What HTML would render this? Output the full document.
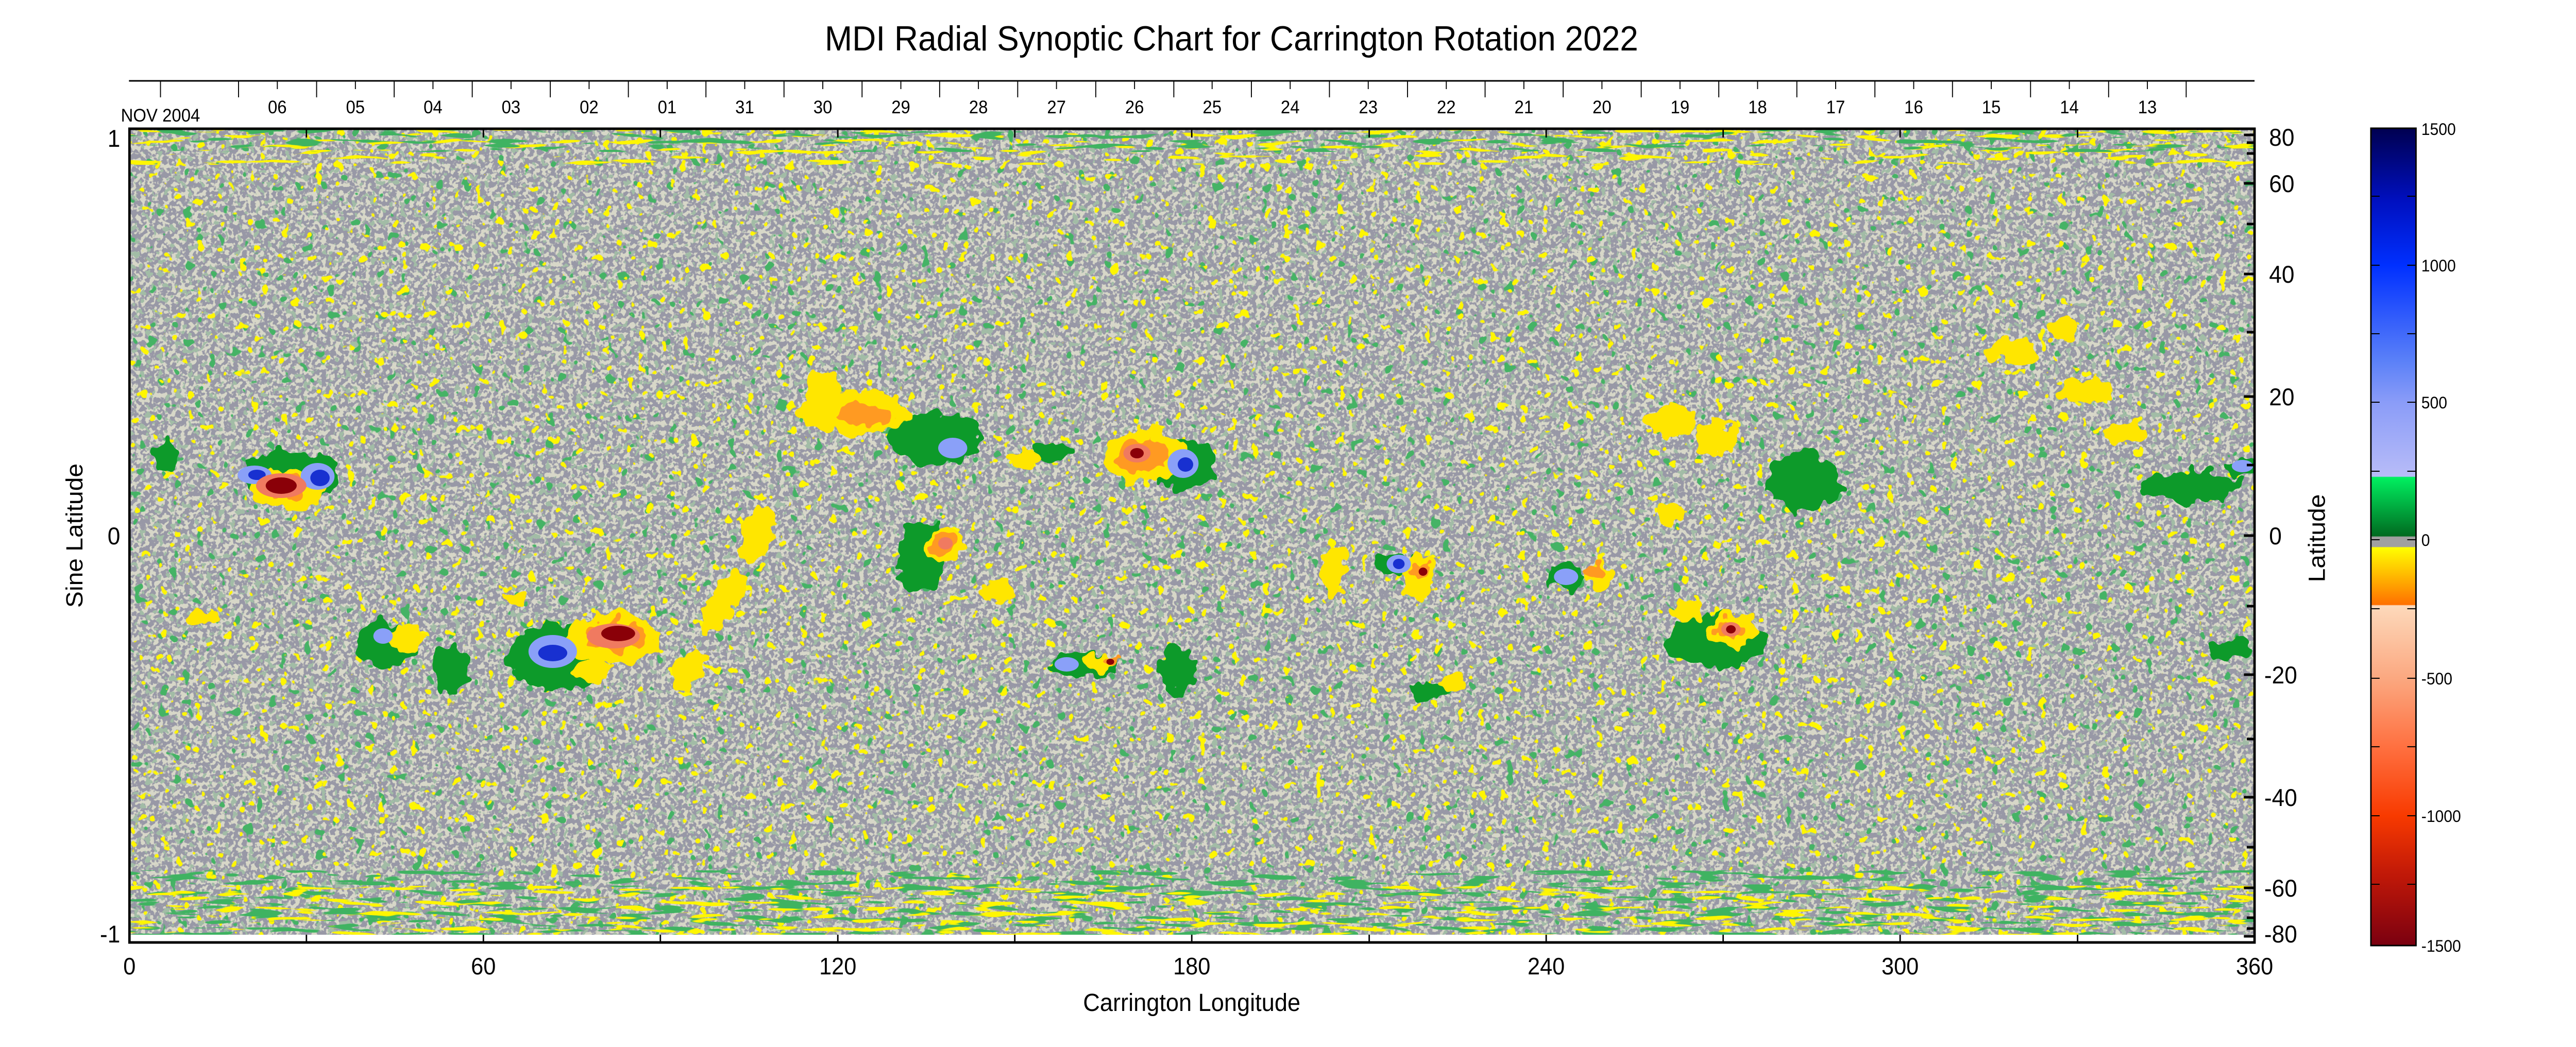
<!DOCTYPE html>
<html><head><meta charset="utf-8"><style>
html,body{margin:0;padding:0;background:#fff;overflow:hidden;width:100%;height:100%;}
svg{display:block;width:100vw;height:100vh;}
text{font-family:"Liberation Sans",Arial,sans-serif;fill:#000;}
</style></head><body>
<svg viewBox="0 0 5313 2033" preserveAspectRatio="none" xmlns="http://www.w3.org/2000/svg">
<defs>
<clipPath id="pc"><rect x="267" y="250" width="4383" height="1580"/></clipPath>
<filter id="khaki" filterUnits="userSpaceOnUse" x="267" y="250" width="4383" height="1580">
 <feTurbulence type="fractalNoise" baseFrequency="0.11" numOctaves="2" seed="2"/>
 <feColorMatrix type="matrix" values="0 0 0 0 0.68  0 0 0 0 0.68  0 0 0 0 0.58  12 0 0 0 -5.8"/>
</filter>
<filter id="dk" filterUnits="userSpaceOnUse" x="267" y="250" width="4383" height="1580">
 <feTurbulence type="fractalNoise" baseFrequency="0.08" numOctaves="2" seed="7"/>
 <feColorMatrix type="matrix" values="0 0 0 0 0.36  0 0 0 0 0.5  0 0 0 0 0.38  25 0 0 0 -15.2"/>
</filter>
<filter id="yl" filterUnits="userSpaceOnUse" x="267" y="250" width="4383" height="1580">
 <feTurbulence type="fractalNoise" baseFrequency="0.045" numOctaves="2" seed="11"/>
 <feColorMatrix type="matrix" values="0 0 0 0 1  0 0 0 0 0.92  0 0 0 0 0  30 0 0 0 -20.8"/>
</filter>
<filter id="gr" filterUnits="userSpaceOnUse" x="267" y="250" width="4383" height="1580">
 <feTurbulence type="fractalNoise" baseFrequency="0.04" numOctaves="2" seed="23"/>
 <feColorMatrix type="matrix" values="0 0 0 0 0.06  0 0 0 0 0.45  0 0 0 0 0.13  30 0 0 0 -21"/>
</filter>
<filter id="ylt" filterUnits="userSpaceOnUse" x="267" y="250" width="4383" height="70">
 <feTurbulence type="fractalNoise" baseFrequency="0.012 0.1" numOctaves="2" seed="5"/>
 <feColorMatrix type="matrix" values="0 0 0 0 1  0 0 0 0 0.92  0 0 0 0 0  20 0 0 0 -12.5"/>
</filter>
<filter id="grt" filterUnits="userSpaceOnUse" x="267" y="250" width="4383" height="45">
 <feTurbulence type="fractalNoise" baseFrequency="0.012 0.1" numOctaves="2" seed="31"/>
 <feColorMatrix type="matrix" values="0 0 0 0 0.05  0 0 0 0 0.45  0 0 0 0 0.12  20 0 0 0 -12"/>
</filter>
<filter id="ylb" filterUnits="userSpaceOnUse" x="267" y="1720" width="4383" height="95">
 <feTurbulence type="fractalNoise" baseFrequency="0.012 0.1" numOctaves="2" seed="5"/>
 <feColorMatrix type="matrix" values="0 0 0 0 1  0 0 0 0 0.92  0 0 0 0 0  20 0 0 0 -12.3"/>
</filter>
<filter id="grb" filterUnits="userSpaceOnUse" x="267" y="1690" width="4383" height="125">
 <feTurbulence type="fractalNoise" baseFrequency="0.012 0.1" numOctaves="2" seed="31"/>
 <feColorMatrix type="matrix" values="0 0 0 0 0.05  0 0 0 0 0.45  0 0 0 0 0.12  20 0 0 0 -11.5"/>
</filter>
<filter id="rag" filterUnits="userSpaceOnUse" x="267" y="250" width="4383" height="1580">
 <feTurbulence type="fractalNoise" baseFrequency="0.035" numOctaves="2" seed="4" result="t"/>
 <feDisplacementMap in="SourceGraphic" in2="t" scale="45" xChannelSelector="R" yChannelSelector="G"/>
</filter>
<linearGradient id="cb" x1="0" y1="0" x2="0" y2="1">
 <stop offset="0" stop-color="#000050"/>
 <stop offset="0.089" stop-color="#0010c0"/>
 <stop offset="0.168" stop-color="#0030ff"/>
 <stop offset="0.284" stop-color="#5a80f8"/>
 <stop offset="0.335" stop-color="#8a9cf8"/>
 <stop offset="0.426" stop-color="#b8bcf8"/>
 <stop offset="0.427" stop-color="#00f060"/>
 <stop offset="0.499" stop-color="#006a20"/>
 <stop offset="0.500" stop-color="#a0a0a0"/>
 <stop offset="0.512" stop-color="#a0a0a0"/>
 <stop offset="0.513" stop-color="#ffff00"/>
 <stop offset="0.583" stop-color="#ff7000"/>
 <stop offset="0.584" stop-color="#fdd9bb"/>
 <stop offset="0.673" stop-color="#fba880"/>
 <stop offset="0.757" stop-color="#ff7040"/>
 <stop offset="0.841" stop-color="#f83a00"/>
 <stop offset="0.914" stop-color="#c01808"/>
 <stop offset="1" stop-color="#7a0010"/>
</linearGradient>
</defs>

<text x="2540" y="98" font-size="68" text-anchor="middle">MDI Radial Synoptic Chart for Carrington Rotation 2022</text>

<line x1="266" y1="157" x2="4650" y2="157" stroke="#000" stroke-width="3"/>
<g stroke="#000" stroke-width="2">
<path d="M331 157V189M492 157V189M653 157V189M813 157V189M974 157V189M1135 157V189M1296 157V189M1456 157V189M1617 157V189M1778 157V189M1938 157V189M2099 157V189M2260 157V189M2421 157V189M2581 157V189M2742 157V189M2903 157V189M3063 157V189M3224 157V189M3385 157V189M3545 157V189M3706 157V189M3867 157V189M4027 157V189M4188 157V189M4349 157V189M4509 157V189"/>
<path d="M572 157V173M733 157V173M893 157V173M1054 157V173M1215 157V173M1376 157V173M1536 157V173M1697 157V173M1858 157V173M2018 157V173M2179 157V173M2340 157V173M2500 157V173M2661 157V173M2822 157V173M2983 157V173M3143 157V173M3304 157V173M3465 157V173M3625 157V173M3786 157V173M3947 157V173M4107 157V173M4268 157V173M4429 157V173"/>
</g>
<g font-size="35" text-anchor="middle">
<text x="331" y="236">NOV 2004</text>
<text x="572" y="220">06</text><text x="733" y="220">05</text><text x="893" y="220">04</text><text x="1054" y="220">03</text><text x="1215" y="220">02</text><text x="1376" y="220">01</text><text x="1536" y="220">31</text><text x="1697" y="220">30</text><text x="1858" y="220">29</text><text x="2018" y="220">28</text><text x="2179" y="220">27</text><text x="2340" y="220">26</text><text x="2500" y="220">25</text><text x="2661" y="220">24</text><text x="2822" y="220">23</text><text x="2983" y="220">22</text><text x="3143" y="220">21</text><text x="3304" y="220">20</text><text x="3465" y="220">19</text><text x="3625" y="220">18</text><text x="3786" y="220">17</text><text x="3947" y="220">16</text><text x="4107" y="220">15</text><text x="4268" y="220">14</text><text x="4429" y="220">13</text>
</g>

<g clip-path="url(#pc)">
<rect x="267" y="250" width="4383" height="1580" fill="#9898a6"/>
<rect x="267" y="250" width="4383" height="1580" filter="url(#khaki)"/>
<rect x="267" y="250" width="4383" height="1580" filter="url(#dk)"/>
<rect x="267" y="250" width="4383" height="1580" filter="url(#gr)"/>
<rect x="267" y="250" width="4383" height="1580" filter="url(#yl)"/>
<rect x="267" y="250" width="4383" height="70" filter="url(#ylt)"/>
<rect x="267" y="250" width="4383" height="45" filter="url(#grt)"/>
<rect x="267" y="1690" width="4383" height="125" filter="url(#grb)"/>
<rect x="267" y="1720" width="4383" height="95" filter="url(#ylb)"/>
<g filter="url(#rag)">
 <g fill="#109a2a">
  <ellipse cx="600" cy="925" rx="105" ry="50"/>
  <ellipse cx="340" cy="885" rx="25" ry="30"/>
  <ellipse cx="800" cy="1250" rx="70" ry="45"/>
  <ellipse cx="930" cy="1300" rx="40" ry="45"/>
  <ellipse cx="1150" cy="1275" rx="105" ry="65"/>
  <ellipse cx="1930" cy="850" rx="95" ry="50"/>
  <ellipse cx="1900" cy="1080" rx="50" ry="70"/>
  <ellipse cx="2165" cy="880" rx="35" ry="20"/>
  <ellipse cx="2240" cy="1290" rx="70" ry="25"/>
  <ellipse cx="2440" cy="900" rx="65" ry="50"/>
  <ellipse cx="2430" cy="1300" rx="35" ry="50"/>
  <ellipse cx="2880" cy="1095" rx="40" ry="25"/>
  <ellipse cx="2950" cy="1340" rx="45" ry="15"/>
  <ellipse cx="3230" cy="1120" rx="40" ry="22"/>
  <ellipse cx="3720" cy="935" rx="80" ry="55"/>
  <ellipse cx="3540" cy="1245" rx="105" ry="50"/>
  <ellipse cx="4520" cy="945" rx="100" ry="30"/>
  <ellipse cx="4630" cy="910" rx="35" ry="20"/>
  <ellipse cx="4600" cy="1260" rx="40" ry="25"/>
 </g>
 <g fill="#ffe600">
  <ellipse cx="595" cy="950" rx="75" ry="40"/>
  <ellipse cx="840" cy="1240" rx="40" ry="30"/>
  <ellipse cx="1265" cy="1240" rx="95" ry="50"/>
  <ellipse cx="1220" cy="1300" rx="40" ry="20"/>
  <ellipse cx="1560" cy="1040" rx="30" ry="60" transform="rotate(30 1560 1040)"/>
  <ellipse cx="1490" cy="1170" rx="30" ry="70" transform="rotate(30 1490 1170)"/>
  <ellipse cx="1420" cy="1300" rx="30" ry="45" transform="rotate(30 1420 1300)"/>
  <ellipse cx="1760" cy="800" rx="120" ry="40"/>
  <ellipse cx="1700" cy="760" rx="35" ry="35"/>
  <ellipse cx="1950" cy="1060" rx="40" ry="35"/>
  <ellipse cx="2110" cy="890" rx="40" ry="20"/>
  <ellipse cx="2270" cy="1285" rx="35" ry="16"/>
  <ellipse cx="2360" cy="885" rx="85" ry="55"/>
  <ellipse cx="2060" cy="1150" rx="35" ry="22"/>
  <ellipse cx="2750" cy="1110" rx="25" ry="50"/>
  <ellipse cx="2930" cy="1120" rx="35" ry="45"/>
  <ellipse cx="3000" cy="1325" rx="22" ry="18"/>
  <ellipse cx="3300" cy="1120" rx="30" ry="26"/>
  <ellipse cx="3450" cy="820" rx="50" ry="30"/>
  <ellipse cx="3540" cy="850" rx="40" ry="35"/>
  <ellipse cx="3440" cy="1000" rx="25" ry="22"/>
  <ellipse cx="3480" cy="1185" rx="30" ry="22"/>
  <ellipse cx="3575" cy="1225" rx="55" ry="32"/>
  <ellipse cx="4150" cy="680" rx="50" ry="25"/>
  <ellipse cx="4300" cy="760" rx="55" ry="28"/>
  <ellipse cx="4380" cy="840" rx="40" ry="20"/>
  <ellipse cx="4250" cy="640" rx="35" ry="22"/>
  <ellipse cx="420" cy="1200" rx="35" ry="18"/>
  <ellipse cx="1060" cy="1160" rx="22" ry="18"/>
 </g>
 <g fill="#ff9a20">
  <ellipse cx="590" cy="945" rx="50" ry="25"/>
  <ellipse cx="1270" cy="1235" rx="65" ry="30"/>
  <ellipse cx="1780" cy="805" rx="60" ry="22"/>
  <ellipse cx="1945" cy="1055" rx="25" ry="20"/>
  <ellipse cx="2355" cy="885" rx="50" ry="32"/>
  <ellipse cx="2930" cy="1110" rx="20" ry="18"/>
  <ellipse cx="3290" cy="1112" rx="18" ry="16"/>
  <ellipse cx="3570" cy="1222" rx="30" ry="18"/>
  <ellipse cx="2290" cy="1285" rx="18" ry="11"/>
 </g>
</g>
<g fill="#8aa0f8">
 <ellipse cx="525" cy="922" rx="35" ry="18"/>
 <ellipse cx="655" cy="925" rx="35" ry="26"/>
 <ellipse cx="1140" cy="1265" rx="50" ry="32"/>
 <ellipse cx="790" cy="1235" rx="20" ry="15"/>
 <ellipse cx="1965" cy="870" rx="30" ry="20"/>
 <ellipse cx="2200" cy="1290" rx="25" ry="14"/>
 <ellipse cx="2440" cy="900" rx="32" ry="28"/>
 <ellipse cx="2885" cy="1095" rx="25" ry="18"/>
 <ellipse cx="3230" cy="1120" rx="25" ry="16"/>
 <ellipse cx="4625" cy="905" rx="22" ry="12"/>
</g>
<g fill="#1830d0">
 <ellipse cx="530" cy="922" rx="18" ry="10"/>
 <ellipse cx="660" cy="928" rx="20" ry="16"/>
 <ellipse cx="1140" cy="1268" rx="30" ry="16"/>
 <ellipse cx="2445" cy="902" rx="16" ry="14"/>
 <ellipse cx="2885" cy="1095" rx="12" ry="10"/>
</g>
<g fill="#f07a60">
 <ellipse cx="580" cy="943" rx="52" ry="24"/>
 <ellipse cx="1265" cy="1235" rx="55" ry="24"/>
 <ellipse cx="2345" cy="880" rx="28" ry="18"/>
 <ellipse cx="3570" cy="1222" rx="20" ry="14"/>
 <ellipse cx="1950" cy="1055" rx="15" ry="12"/>
</g>
<g fill="#8a0008">
 <ellipse cx="580" cy="943" rx="32" ry="16"/>
 <ellipse cx="1275" cy="1230" rx="35" ry="15"/>
 <ellipse cx="2345" cy="880" rx="14" ry="10"/>
 <ellipse cx="2935" cy="1110" rx="9" ry="8"/>
 <ellipse cx="3570" cy="1222" rx="10" ry="8"/>
 <ellipse cx="2290" cy="1285" rx="8" ry="6"/>
</g>
<rect x="267" y="1815" width="4383" height="15" fill="#fff"/>
</g>

<rect x="267" y="250" width="4383" height="1580" fill="none" stroke="#000" stroke-width="5"/>
<g stroke="#000" stroke-width="3">
<path d="M632 250v17M997 250v17M1362 250v17M1728 250v17M2093 250v17M2458 250v17M2824 250v17M3189 250v17M3554 250v17M3919 250v17M4285 250v17"/>
<path d="M632 1830v-15M997 1830v-15M1362 1830v-15M1728 1830v-15M2093 1830v-15M2458 1830v-15M2824 1830v-15M3189 1830v-15M3554 1830v-15M3919 1830v-15M4285 1830v-15"/>
</g>
<g stroke="#000" stroke-width="5">
<path d="M4650 1040h-22M4650 903h-16M4650 770h-22M4650 645h-16M4650 532h-22M4650 435h-16M4650 356h-22M4650 298h-16M4650 262h-22M4650 1177h-16M4650 1310h-22M4650 1435h-16M4650 1548h-22M4650 1645h-16M4650 1724h-22M4650 1782h-16M4650 1818h-22M4650 277h-16M4650 1803h-16"/>
</g>
<g font-size="47" text-anchor="start">
<text x="4680" y="283">80</text>
<text x="4680" y="373">60</text>
<text x="4680" y="549">40</text>
<text x="4680" y="787">20</text>
<text x="4680" y="1057">0</text>
<text x="4670" y="1327">-20</text>
<text x="4670" y="1565">-40</text>
<text x="4670" y="1741">-60</text>
<text x="4670" y="1830">-80</text>
</g>
<g font-size="47" text-anchor="end">
<text x="248" y="285">1</text>
<text x="248" y="1057">0</text>
<text x="248" y="1830">-1</text>
</g>
<g font-size="46" text-anchor="middle">
<text x="267" y="1892">0</text>
<text x="997" y="1892">60</text>
<text x="1728" y="1892">120</text>
<text x="2458" y="1892">180</text>
<text x="3189" y="1892">240</text>
<text x="3919" y="1892">300</text>
<text x="4650" y="1892">360</text>
</g>
<text x="2458" y="1963" font-size="48" text-anchor="middle">Carrington Longitude</text>
<text transform="translate(170 1040) rotate(-90)" font-size="48" text-anchor="middle">Sine Latitude</text>
<text transform="translate(4795 1045) rotate(-90)" font-size="48" text-anchor="middle">Latitude</text>

<rect x="4890" y="249" width="93" height="1587" fill="url(#cb)" stroke="#000" stroke-width="3"/>
<g stroke="#000" stroke-width="2">
<path d="M4890 381h18M4983 381h-18M4890 515h18M4983 515h-18M4890 648h18M4983 648h-18M4890 781h18M4983 781h-18M4890 915h18M4983 915h-18M4890 1048h18M4983 1048h-18M4890 1182h18M4983 1182h-18M4890 1317h18M4983 1317h-18M4890 1450h18M4983 1450h-18M4890 1584h18M4983 1584h-18M4890 1717h18M4983 1717h-18"/>
</g>
<g font-size="32">
<text x="4994" y="262">1500</text>
<text x="4994" y="527">1000</text>
<text x="4994" y="793">500</text>
<text x="4994" y="1060">0</text>
<text x="4994" y="1329">-500</text>
<text x="4994" y="1596">-1000</text>
<text x="4994" y="1848">-1500</text>
</g>
</svg>
</body></html>
